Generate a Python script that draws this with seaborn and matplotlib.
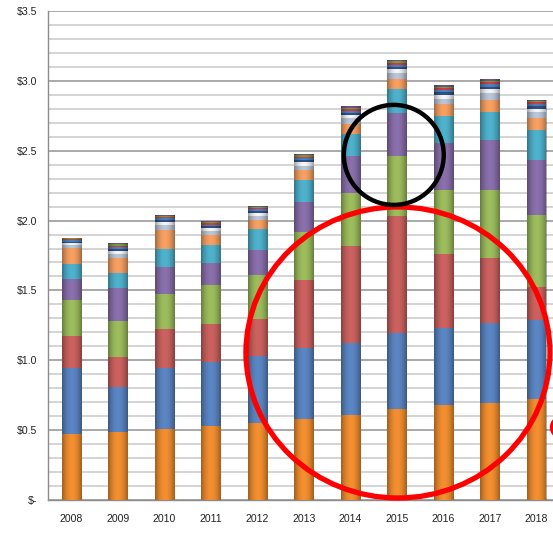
import numpy as np
import pandas as pd
import matplotlib
matplotlib.use("Agg")
import matplotlib.pyplot as plt
from matplotlib.patches import Ellipse
from matplotlib.ticker import MultipleLocator, FixedLocator
import seaborn as sns

years = ["2008", "2009", "2010", "2011", "2012", "2013", "2014", "2015", "2016", "2017", "2018"]

orange = [0.470, 0.490, 0.507, 0.529, 0.549, 0.578, 0.607, 0.651, 0.678, 0.696, 0.725]
blue   = [0.478, 0.318, 0.441, 0.456, 0.480, 0.507, 0.517, 0.547, 0.551, 0.568, 0.566]
red    = [0.225, 0.216, 0.277, 0.276, 0.267, 0.490, 0.696, 0.835, 0.534, 0.465, 0.232]
green  = [0.262, 0.257, 0.249, 0.277, 0.316, 0.340, 0.377, 0.431, 0.458, 0.490, 0.520]
purple = [0.147, 0.235, 0.194, 0.159, 0.178, 0.221, 0.267, 0.304, 0.331, 0.357, 0.387]
cyan   = [0.110, 0.108, 0.130, 0.130, 0.150, 0.154, 0.159, 0.171, 0.193, 0.204, 0.215]
orange2 = [0.115, 0.110, 0.137, 0.071, 0.066, 0.069, 0.071, 0.076, 0.086, 0.086, 0.091]
grey_s   = [0.020, 0.030, 0.032, 0.028, 0.029, 0.035, 0.037, 0.040, 0.041, 0.044, 0.039]
white_s  = [0.014, 0.020, 0.022, 0.020, 0.020, 0.023, 0.024, 0.027, 0.027, 0.029, 0.026]
navy_s   = [0.009, 0.014, 0.014, 0.013, 0.013, 0.015, 0.016, 0.018, 0.018, 0.019, 0.017]
blue_s   = [0.008, 0.012, 0.012, 0.011, 0.012, 0.014, 0.015, 0.016, 0.017, 0.018, 0.016]
red_s    = [0.008, 0.010, 0.011, 0.010, 0.010, 0.012, 0.012, 0.014, 0.014, 0.015, 0.013]
green_s  = [0.006, 0.009, 0.009, 0.008, 0.008, 0.009, 0.010, 0.010, 0.010, 0.011, 0.010]
purple_s = [0.006, 0.008, 0.008, 0.008, 0.008, 0.009, 0.009, 0.010, 0.010, 0.010, 0.009]

series = [
    ("orange", orange, "#f38f30"),
    ("blue", blue, "#5b86c4"),
    ("red", red, "#cc625f"),
    ("green", green, "#9dbd5d"),
    ("purple", purple, "#8a70ac"),
    ("cyan", cyan, "#4fb2cd"),
    ("orange2", orange2, "#f7a062"),
    ("grey", grey_s, "#b9c5d8"),
    ("white", white_s, "#f4f4f4"),
    ("navy", navy_s, "#2f5286"),
    ("blue2", blue_s, "#4f7fc0"),
    ("red2", red_s, "#c9423f"),
    ("green2", green_s, "#7a9c3c"),
    ("purple2", purple_s, "#6d5690"),
]

y_ticks = [0.0, 0.5, 1.0, 1.5, 2.0, 2.5, 3.0, 3.5]
y_labels = ["$-", "$0.5", "$1.0", "$1.5", "$2.0", "$2.5", "$3.0", "$3.5"]

sns.set_style("white")
plt.rcParams["font.family"] = ["Liberation Sans", "DejaVu Sans"]

W, H = 553, 536
fig = plt.figure(figsize=(W / 100, H / 100), dpi=100)
ax_left = 48.35 / W
ax_bottom = (H - 500) / H
ax_h = (500 - 11) / H
ax = fig.add_axes([ax_left, ax_bottom, 1 - ax_left, ax_h])

bottom = np.zeros(len(years))
for name, vals, col in series:
    df = pd.DataFrame({"year": years, "value": vals})
    sns.barplot(data=df, x="year", y="value", order=years, color=col,
                width=0.43, bottom=bottom.copy(), errorbar=None, ax=ax,
                saturation=1, edgecolor=col, linewidth=0.0, zorder=3)
    bottom = bottom + np.array(vals)

# glossy shading on each bar segment
grad = np.linspace(0, 1, 64)
shade = 1 - np.abs(grad - 0.5) * 2  # 0 at edges, 1 in center
img = np.zeros((1, 64, 4))
img[..., 0:3] = 0.0
img[..., 3] = (1 - shade) ** 2 * 0.35
for p in list(ax.patches):
    x0, y0 = p.get_x(), p.get_y()
    w, h = p.get_width(), p.get_height()
    if h <= 0:
        continue
    im = ax.imshow(img, extent=[x0, x0 + w, y0, y0 + h], aspect="auto",
                   zorder=3.5, interpolation="bilinear")
    im.set_clip_path(p)

ax.set_xlim(-0.5, 10.355)
ax.set_ylim(0, 3.5)
ax.set_xlabel("")
ax.set_ylabel("")

ax.yaxis.set_major_locator(FixedLocator(y_ticks))
ax.set_yticklabels(y_labels)
ax.yaxis.set_minor_locator(MultipleLocator(0.1))
ax.grid(False)
ax.grid(True, axis="y", which="minor", color="#d4d4d4", linewidth=1.4, zorder=0)
ax.grid(True, axis="y", which="major", color="#a3a3a3", linewidth=1.3, zorder=0)
ax.set_axisbelow(True)

ax.xaxis.set_minor_locator(FixedLocator(np.arange(-0.5, 11, 1.0)))
ax.tick_params(axis="x", which="major", length=0, pad=10, labelsize=7.6, colors="#222222")
ax.tick_params(axis="x", which="minor", length=4, width=0.9, color="#8c8c8c", direction="out")
ax.tick_params(axis="y", which="major", length=4, width=0.9, color="#8c8c8c", direction="out",
               pad=4, labelsize=7.6, labelcolor="#222222")
ax.tick_params(axis="y", which="minor", length=0)

for s in ["top", "right"]:
    ax.spines[s].set_visible(False)
for s in ["left", "bottom"]:
    ax.spines[s].set_color("#8c8c8c")
    ax.spines[s].set_linewidth(1.0)

# annotations (hand-drawn circles)
red_c = Ellipse((7.02, 1.056), 6.54, 2.083, fill=False, edgecolor="#ff0000",
                linewidth=3.8, zorder=10, clip_on=False)
ax.add_patch(red_c)
blk_c = Ellipse((6.93, 2.47), 2.15, 0.716, fill=False, edgecolor="#000000",
                linewidth=3.2, zorder=10, clip_on=False)
ax.add_patch(blk_c)
small_c = Ellipse((10.55, 0.52), 0.43, 0.14, fill=False, edgecolor="#ff0000",
                  linewidth=3.2, zorder=10, clip_on=False)
ax.add_patch(small_c)

fig.savefig("out.png", dpi=100)
